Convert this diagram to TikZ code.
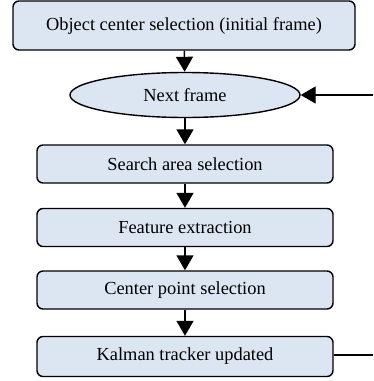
\documentclass[tikz,border=0pt]{standalone}
\usepackage{fontspec}
\setmainfont{Liberation Serif}
\usetikzlibrary{arrows.meta,shapes.geometric}
\definecolor{boxfill}{RGB}{220,230,242}
\begin{document}
\begin{tikzpicture}[x=1pt,y=-1pt,
  stepbox/.style={draw=black,line width=1.4pt,fill=boxfill,rounded corners=6pt,
    minimum height=38pt,inner sep=0pt,font=\fontsize{18.4}{20}\selectfont},
  oval/.style={draw=black,line width=1.4pt,fill=boxfill,ellipse,inner sep=0pt,
    minimum width=230pt,minimum height=45pt,font=\fontsize{18.4}{20}\selectfont},
  flow/.style={line width=1.4pt,-{Triangle[length=15pt,width=17pt]}},
  plain/.style={line width=1.4pt}]
\useasboundingbox (0,0) rectangle (373,381);
\node[stepbox,minimum width=342pt,minimum height=49pt] (init) at (184,25.5) {Object center selection (initial frame)};
\node[oval] (next) at (185,95) {Next frame};
\node[stepbox,minimum width=296pt] (search) at (185,164) {Search area selection};
\node[stepbox,minimum width=296pt] (feat) at (185,227.5) {Feature extraction};
\node[stepbox,minimum width=296pt] (cpt) at (185,290) {Center point selection};
\node[stepbox,minimum width=296pt,minimum height=40pt] (kal) at (185,356.5) {Kalman tracker updated};
\coordinate (loopin) at (373,95);
\coordinate (loopout) at (373,355);
\draw[flow] (init) -- (next);
\draw[flow] (next) -- (search);
\draw[flow] (search) -- (feat);
\draw[flow] (feat) -- (cpt);
\draw[flow] (cpt) -- (kal);
\draw[flow] (loopin) -- (next);
\draw[plain] (kal.east |- loopout) -- (loopout);
\end{tikzpicture}
\end{document}
